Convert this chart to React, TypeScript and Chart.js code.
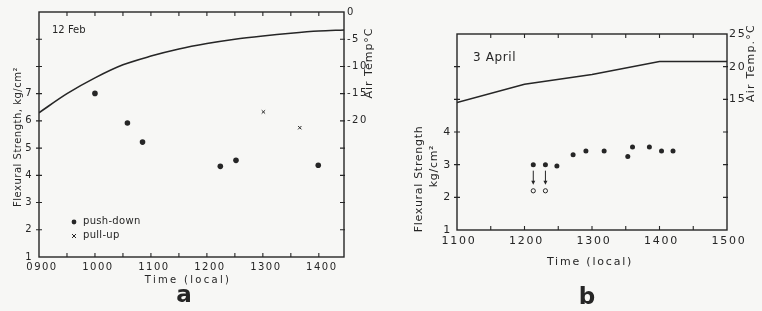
import React, { useEffect, useRef } from 'react';
import { Chart, registerables } from 'chart.js';

Chart.register(...registerables);

// ---------- panel a : 12 Feb ----------
const pushTimesA = [10.0, 10.58, 10.85, 12.24, 12.52, 13.99];
const pushStrengthA = [7.01, 5.92, 5.22, 4.33, 4.55, 4.37];
const pullTimesA = [13.01, 13.66];
const pullStrengthA = [6.33, 5.75];
const tempTimesA = [9.0, 9.5, 10.0, 10.5, 11.0, 11.5, 12.0, 12.5, 13.0, 13.5, 14.0, 14.45];
const tempA = [-18.5, -15.0, -12.1, -9.7, -8.1, -6.8, -5.8, -5.0, -4.4, -3.9, -3.5, -3.3];

// ---------- panel b : 3 April ----------
const strengthTimesB = [12.13, 12.31, 12.48, 12.72, 12.91, 13.18, 13.53, 13.6, 13.85, 14.03, 14.2];
const strengthB = [3.0, 3.0, 2.96, 3.3, 3.42, 3.42, 3.25, 3.54, 3.54, 3.42, 3.42];
const openTimesB = [12.13, 12.31];
const openStrengthB = [2.2, 2.2];
const tempTimesB = [11, 12, 13, 14, 15];
const tempB = [14.5, 17.3, 18.8, 20.8, 20.8];

const INK = '#262626';
const BG = '#f7f7f5';
const FONT = '"DejaVu Sans", sans-serif';

const pts = (xs: number[], ys: number[]) => xs.map((x, i) => ({ x, y: ys[i] }));
const hourLabel = (v: number) =>
  Math.abs(v - Math.round(v)) < 1e-6 ? String(Math.round(v) * 100).padStart(4, '0') : '';

type TextSpec = {
  text: string; x: number; y: number; size: number; rot?: boolean;
  align?: CanvasTextAlign; spacing?: number; bold?: boolean;
};
type LegendSpec = { style: 'dot' | 'cross'; x: number; y: number; text: string };

function decor(id: string, tickSpacing: number, texts: TextSpec[], legend: LegendSpec[], arrows: boolean) {
  return {
    id,
    beforeDraw(chart: any) {
      chart.ctx.letterSpacing = `${tickSpacing}px`;
    },
    afterDraw(chart: any) {
      const { ctx, chartArea: a, scales } = chart;
      ctx.save();
      ctx.letterSpacing = '0px';
      ctx.strokeStyle = INK;
      ctx.fillStyle = INK;
      ctx.lineWidth = 1.4;
      ctx.strokeRect(a.left, a.top, a.right - a.left, a.bottom - a.top);
      ctx.lineWidth = 1.1;
      ctx.beginPath();
      const xs = scales.x;
      xs.ticks.forEach((t: any) => {
        const px = xs.getPixelForValue(t.value);
        if (px <= a.left + 1 || px >= a.right - 1) return;
        ctx.moveTo(px, a.bottom); ctx.lineTo(px, a.bottom - 4);
        ctx.moveTo(px, a.top); ctx.lineTo(px, a.top + 4);
      });
      const yl = scales.y;
      yl.ticks.forEach((t: any) => {
        const py = yl.getPixelForValue(t.value);
        if (py <= a.top + 1 || py >= a.bottom - 1) return;
        ctx.moveTo(a.left - 3, py); ctx.lineTo(a.left + 3, py);
      });
      const yr = scales.yT;
      yr.ticks.forEach((t: any) => {
        const py = yr.getPixelForValue(t.value);
        if (py <= a.top + 1 || py >= a.bottom - 1) return;
        ctx.moveTo(a.right - 4, py); ctx.lineTo(a.right + 1, py);
      });
      ctx.stroke();

      if (arrows) {
        ctx.lineWidth = 1;
        openTimesB.forEach((t, i) => {
          const px = xs.getPixelForValue(t);
          const y1 = yl.getPixelForValue(strengthB[i]) + 6;
          const y2 = yl.getPixelForValue(openStrengthB[i]) - 6;
          ctx.beginPath();
          ctx.moveTo(px, y1); ctx.lineTo(px, y2 - 2);
          ctx.stroke();
          ctx.beginPath();
          ctx.moveTo(px - 2, y2 - 4); ctx.lineTo(px + 2, y2 - 4); ctx.lineTo(px, y2);
          ctx.closePath(); ctx.fill();
        });
      }

      legend.forEach((l) => {
        if (l.style === 'dot') {
          ctx.beginPath(); ctx.arc(l.x, l.y, 2.4, 0, Math.PI * 2); ctx.fill();
        } else {
          ctx.lineWidth = 1;
          ctx.beginPath();
          ctx.moveTo(l.x - 2, l.y - 2); ctx.lineTo(l.x + 2, l.y + 2);
          ctx.moveTo(l.x + 2, l.y - 2); ctx.lineTo(l.x - 2, l.y + 2);
          ctx.stroke();
        }
        ctx.font = `10px ${FONT}`;
        ctx.letterSpacing = '0.3px';
        ctx.textAlign = 'left';
        ctx.textBaseline = 'middle';
        ctx.fillText(l.text, l.x + 9, l.y - 1);
      });

      texts.forEach((s) => {
        ctx.save();
        ctx.font = `${s.bold ? 'bold ' : ''}${s.size}px ${FONT}`;
        ctx.letterSpacing = `${s.spacing ?? 0}px`;
        ctx.textAlign = s.align ?? 'center';
        ctx.textBaseline = s.bold ? 'alphabetic' : 'middle';
        ctx.translate(s.x, s.y);
        if (s.rot) ctx.rotate(-Math.PI / 2);
        ctx.fillText(s.text, 0, 0);
        ctx.restore();
      });
      ctx.restore();
    },
  };
}

function fixed(w: number) {
  return (scale: any) => { scale.width = w; };
}
function fixedH(h: number) {
  return (scale: any) => { scale.height = h; };
}
const noGrid = { display: false, drawTicks: false };

function configA(): any {
  return {
    type: 'scatter',
    data: {
      datasets: [
        {
          type: 'line', label: 'Air temp', data: pts(tempTimesA, tempA), yAxisID: 'yT',
          borderColor: INK, borderWidth: 1.6, pointRadius: 0, cubicInterpolationMode: 'monotone', fill: false,
        },
        {
          label: 'push-down', data: pts(pushTimesA, pushStrengthA), yAxisID: 'y',
          pointStyle: 'circle', pointRadius: 2.8, backgroundColor: INK, borderColor: INK, borderWidth: 0,
        },
        {
          label: 'pull-up', data: pts(pullTimesA, pullStrengthA), yAxisID: 'y',
          pointStyle: 'crossRot', pointRadius: 2.4, borderColor: INK, borderWidth: 1, backgroundColor: INK,
        },
      ],
    },
    options: {
      responsive: false, animation: false, devicePixelRatio: 1,
      layout: { padding: { left: 0, top: 12, right: 762 - 344 - 30, bottom: 311 - 257 - 30 } },
      plugins: { legend: { display: false }, tooltip: { enabled: false } },
      scales: {
        x: {
          type: 'linear', position: 'bottom', min: 9, max: 14.45,
          grid: noGrid, border: { display: false },
          ticks: { stepSize: 0.5, includeBounds: false, autoSkip: false, maxRotation: 0, padding: 4,
            labelOffset: 3, font: { size: 10 }, color: INK, callback: hourLabel },
          afterFit: fixedH(30),
        },
        y: {
          type: 'linear', position: 'left', min: 1, max: 10,
          grid: noGrid, border: { display: false },
          ticks: { stepSize: 1, autoSkip: false, padding: 6, font: { size: 10 }, color: INK,
            callback: (v: number) => (v <= 7 ? String(v) : '') },
          afterFit: fixed(39),
        },
        yT: {
          type: 'linear', position: 'right', min: -45, max: 0,
          grid: noGrid, border: { display: false },
          ticks: { stepSize: 5, autoSkip: false, padding: 3, font: { size: 10 }, color: INK,
            callback: (v: number) => (v >= -20 ? String(v) : '') },
          afterFit: fixed(30),
        },
      },
    },
    plugins: [
      decor('decorA', 1.5, [
        { text: '12 Feb', x: 52, y: 30, size: 10, align: 'left' },
        { text: 'Flexural Strength, kg/cm²', x: 18, y: 137, size: 10, rot: true, spacing: 0.5 },
        { text: 'Air Temp°C', x: 369, y: 63, size: 11, rot: true, spacing: 1 },
        { text: 'Time (local)', x: 188, y: 280, size: 10, spacing: 2.3 },
        { text: 'a', x: 184, y: 302, size: 23, bold: true },
      ], [
        { style: 'dot', x: 74, y: 222, text: 'push-down' },
        { style: 'cross', x: 74, y: 236, text: 'pull-up' },
      ], false),
    ],
  };
}

function configB(): any {
  return {
    type: 'scatter',
    data: {
      datasets: [
        {
          type: 'line', label: 'Air temp', data: pts(tempTimesB, tempB), yAxisID: 'yT',
          borderColor: INK, borderWidth: 1.6, pointRadius: 0, tension: 0, fill: false,
        },
        {
          label: 'strength', data: pts(strengthTimesB, strengthB), yAxisID: 'y',
          pointStyle: 'circle', pointRadius: 2.5, backgroundColor: INK, borderColor: INK, borderWidth: 0,
        },
        {
          label: 'after failure', data: pts(openTimesB, openStrengthB), yAxisID: 'y',
          pointStyle: 'circle', pointRadius: 2.1, backgroundColor: BG, borderColor: INK, borderWidth: 1,
        },
      ],
    },
    options: {
      responsive: false, animation: false, devicePixelRatio: 1,
      layout: { padding: { left: 457 - 30, top: 34, right: 762 - 727 - 30, bottom: 311 - 230 - 30 } },
      plugins: { legend: { display: false }, tooltip: { enabled: false } },
      scales: {
        x: {
          type: 'linear', position: 'bottom', min: 11, max: 15,
          grid: noGrid, border: { display: false },
          ticks: { stepSize: 0.5, autoSkip: false, maxRotation: 0, padding: 5, labelOffset: 2,
            font: { size: 11 }, color: INK, callback: hourLabel },
          afterFit: fixedH(30),
        },
        y: {
          type: 'linear', position: 'left', min: 1, max: 7,
          grid: noGrid, border: { display: false },
          ticks: { stepSize: 1, autoSkip: false, padding: 5, font: { size: 11 }, color: INK,
            callback: (v: number) => (v <= 4 ? String(v) : '') },
          afterFit: fixed(30),
        },
        yT: {
          type: 'linear', position: 'right', min: -5, max: 25,
          grid: noGrid, border: { display: false },
          ticks: { stepSize: 5, autoSkip: false, padding: 2, font: { size: 11 }, color: INK,
            callback: (v: number) => (v >= 15 ? String(v) : '') },
          afterFit: fixed(30),
        },
      },
    },
    plugins: [
      decor('decorB', 1.7, [
        { text: '3 April', x: 473, y: 58, size: 12, align: 'left', spacing: 0.6 },
        { text: 'Flexural Strength', x: 419, y: 179, size: 11, rot: true, spacing: 0.7 },
        { text: 'kg/cm²', x: 434, y: 166, size: 11, rot: true, spacing: 0.7 },
        { text: 'Air Temp.°C', x: 751, y: 63, size: 11, rot: true, spacing: 1.2 },
        { text: 'Time (local)', x: 590, y: 262, size: 11, spacing: 1.8 },
        { text: 'b', x: 587, y: 304, size: 23, bold: true },
      ], [], true),
    ],
  };
}

export default function App() {
  const refA = useRef<HTMLCanvasElement>(null);
  const refB = useRef<HTMLCanvasElement>(null);
  useEffect(() => {
    Chart.defaults.font.family = FONT;
    Chart.defaults.color = INK;
    const ca = new Chart(refA.current as HTMLCanvasElement, configA());
    const cb = new Chart(refB.current as HTMLCanvasElement, configB());
    return () => { ca.destroy(); cb.destroy(); };
  }, []);
  const cs: React.CSSProperties = { position: 'absolute', left: 0, top: 0, width: 762, height: 311 };
  return (
    <div style={{ position: 'fixed', left: 0, top: 0, width: 762, height: 311, background: BG }}>
      <canvas ref={refA} width={762} height={311} style={cs} />
      <canvas ref={refB} width={762} height={311} style={cs} />
    </div>
  );
}
